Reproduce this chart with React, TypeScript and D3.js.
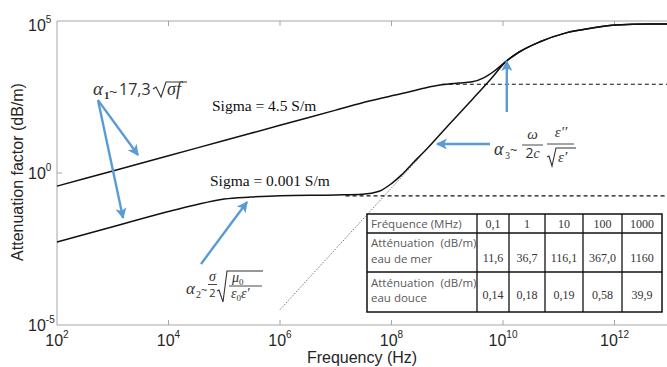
import * as d3 from "d3"

// readings: frequency in Hz, attenuation in dB/m
const seaFreq = [1e2, 1e3, 1e4, 1e5, 1e6, 1e7, 4e7, 1.6e8, 4e8, 8e8, 1.6e9, 2.8e9, 4.5e9, 7e9, 1.15e10, 1.95e10, 4.5e10, 1.35e11, 4e11, 1.07e12, 4.2e12, 1e13]
const seaAtt = [0.37, 1.17, 3.7, 11.7, 37, 117, 234, 417, 630, 800, 912, 1000, 1350, 2265, 4790, 9550, 20400, 40700, 58900, 74100, 79400, 79400]

const freshFreq = [1e2, 1e3, 1e4, 3e4, 1e5, 3e5, 1e6, 1e7, 3e7, 6e7, 1e8, 1.5e8, 2.4e8, 4e8, 1e9, 3e9, 6e9, 1.15e10, 1.95e10, 4.5e10, 1.35e11, 4e11, 1.07e12, 4.2e12, 1e13]
const freshAtt = [0.0054, 0.017, 0.054, 0.089, 0.14, 0.162, 0.18, 0.19, 0.2, 0.25, 0.45, 0.85, 2.1, 5.4, 34, 300, 1220, 4790, 9550, 20400, 40700, 58900, 74100, 79400, 79400]

// alpha3 asymptote (dotted) and the two conduction plateaus (dashed)
const asymFreq = [1e6, 3e8]
const asymAtt = [3.2e-5, 2.9]
const plateauStart = [8e8, 1.5e7]
const plateauAtt = [830, 0.178]

const xTicks = [1e2, 1e4, 1e6, 1e8, 1e10, 1e12]
const yTicks = [1e-5, 1e0, 1e5]

const curveLabels = ["Sigma = 4.5 S/m", "Sigma = 0.001 S/m"]

// table
const tableFreq = ["0,1", "1", "10", "100", "1000"]
const tableSea = ["11,6", "36,7", "116,1", "367,0", "1160"]
const tableFresh = ["0,14", "0,18", "0,19", "0,58", "39,9"]

const x = d3.scaleLog().domain([1e2, 1e13]).range([57, 57 + 11 * 55.75])
const y = d3.scaleLog().domain([1e-5, 1e5]).range([325, 21])

const line = d3
  .line<[number, number]>()
  .x((d) => x(d[0]))
  .y((d) => y(d[1]))
  .curve(d3.curveMonotoneX)

const zip = (f: number[], a: number[]) => f.map((v, i) => [v, a[i]] as [number, number])

const blue = "#5b9bd5"
const ink = "#333"
const serif = "Liberation Serif, serif"
const sans = "Liberation Sans, Arial, sans-serif"
const ui = "Open Sans, sans-serif"

// arrows in data coordinates [freq, att] -> [freq, att]
const arrows: Array<[[number, number], [number, number]]> = [
  [[543, 250], [2.84e3, 3.9]],
  [[543, 250], [1.53e3, 0.033]],
  [[3.83e4, 1.02e-3], [2.56e5, 0.111]],
  [[5.85e9, 9.0], [6.55e8, 9.0]],
  [[1.17e10, 101], [1.17e10, 4830]],
]

const colX = [367, 477, 509, 545, 583, 622, 662]
const rowY = [214, 233, 272, 312]

function Radical({ d }: { d: string }) {
  return <path d={d} fill="none" stroke={ink} strokeWidth={1.1} />
}

export default function App() {
  const exp = (t: number) => String(Math.round(Math.log10(t)))
  return (
    <svg
      width={667}
      height={367}
      style={{ position: "absolute", left: 0, top: 0, background: "#fff" }}
      fontFamily={sans}
    >
      <defs>
        <marker
          id="head"
          viewBox="0 0 10 10"
          refX={9}
          refY={5}
          markerWidth={12}
          markerHeight={11}
          markerUnits="userSpaceOnUse"
          orient="auto"
        >
          <path d="M0,0 L10,5 L0,10 L2.5,5 z" fill={blue} />
        </marker>
      </defs>

      {/* frame */}
      <g stroke="#a6a6a6" strokeWidth={1}>
        <line x1={57} x2={667} y1={21} y2={21} />
        <line x1={57} x2={667} y1={325} y2={325} />
        <line x1={57} x2={57} y1={21} y2={325} />
        {xTicks.slice(1).map((t) => (
          <g key={t}>
            <line x1={x(t)} x2={x(t)} y1={325} y2={320} />
            <line x1={x(t)} x2={x(t)} y1={21} y2={26} />
          </g>
        ))}
        {yTicks.slice(1, -1).map((t) => (
          <line key={t} x1={57} x2={62} y1={y(t)} y2={y(t)} />
        ))}
      </g>

      {/* tick labels */}
      <g fill="#262626" fontSize={16}>
        {xTicks.map((t) => (
          <text key={t} x={x(t)} y={346} textAnchor="middle">
            10<tspan fontSize={10} dy={-8}>{exp(t)}</tspan>
          </text>
        ))}
        {yTicks.map((t) => (
          <text key={t} x={28} y={Math.max(y(t) + 6, 31)}>
            10<tspan fontSize={10} dy={-8}>{exp(t)}</tspan>
          </text>
        ))}
        <text x={362} y={363} textAnchor="middle">Frequency (Hz)</text>
        <text transform="translate(23,172) rotate(-90)" textAnchor="middle">
          Attenuation factor (dB/m)
        </text>
      </g>

      {/* curves */}
      <path d={line(zip(asymFreq, asymAtt)) ?? ""} fill="none" stroke="#666" strokeWidth={0.9} strokeDasharray="1.5,1.5" />
      {plateauStart.map((f, i) => (
        <line
          key={f}
          x1={x(f)}
          x2={667}
          y1={y(plateauAtt[i])}
          y2={y(plateauAtt[i])}
          stroke="#111"
          strokeWidth={1.2}
          strokeDasharray="4,3"
        />
      ))}
      <path d={line(zip(seaFreq, seaAtt)) ?? ""} fill="none" stroke="#111" strokeWidth={1.5} />
      <path d={line(zip(freshFreq, freshAtt)) ?? ""} fill="none" stroke="#111" strokeWidth={1.5} />

      <g fontFamily={serif} fontSize={15.5} fill="#111">
        <text x={212} y={111}>{curveLabels[0]}</text>
        <text x={210} y={186}>{curveLabels[1]}</text>
      </g>

      {/* arrows */}
      <g stroke={blue} strokeWidth={2.4} markerEnd="url(#head)">
        {arrows.map(([a, b], i) => (
          <line key={i} x1={x(a[0])} y1={y(a[1])} x2={x(b[0])} y2={y(b[1])} />
        ))}
      </g>

      {/* alpha1 */}
      <g fill={ink}>
        <text x={93} y={95} fontFamily={serif} fontStyle="italic" fontSize={19}>α</text>
        <text x={104} y={99} fontFamily={serif} fontSize={11} fontWeight="bold">1</text>
        <text x={109} y={97} fontFamily={ui} fontSize={15}>~</text>
        <text x={119} y={95} fontFamily={ui} fontSize={16}>17,3</text>
        <Radical d="M153,89 L156,87 L161,97 L166,82 L187,82" />
        <text x={167} y={95} fontFamily={serif} fontStyle="italic" fontSize={18}>σf</text>
      </g>

      {/* alpha2 */}
      <g fill={ink} fontFamily={serif}>
        <text x={186} y={294} fontStyle="italic" fontSize={17}>α</text>
        <text x={196} y={298} fontSize={10}>2</text>
        <text x={201} y={294} fontFamily={ui} fontSize={11}>~</text>
        <text x={212.5} y={281} fontStyle="italic" fontSize={14} textAnchor="middle">σ</text>
        <line x1={208} x2={217} y1={284.5} y2={284.5} stroke={ink} strokeWidth={0.9} />
        <text x={212.5} y={297} fontFamily={ui} fontSize={11} textAnchor="middle">2</text>
        <Radical d="M217,291 L219,290 L223,302 L227,271 L263,271" />
        <text x={232} y={282} fontStyle="italic" fontSize={14}>μ<tspan fontStyle="normal" fontSize={9} dy={3}>0</tspan></text>
        <line x1={229} x2={262} y1={286} y2={286} stroke={ink} strokeWidth={0.9} />
        <text x={231} y={298} fontStyle="italic" fontSize={14}>
          ε<tspan fontStyle="normal" fontSize={9} dy={3}>0</tspan>
          <tspan dy={-3}>ε′</tspan>
        </text>
      </g>

      {/* alpha3 */}
      <g fill={ink} fontFamily={serif}>
        <text x={494} y={155} fontStyle="italic" fontSize={18}>α</text>
        <text x={505} y={159} fontSize={10}>3</text>
        <text x={510} y={155} fontFamily={ui} fontSize={13}>~</text>
        <text x={532.5} y={139} fontStyle="italic" fontSize={15} textAnchor="middle">ω</text>
        <line x1={522} x2={543} y1={145} y2={145} stroke={ink} strokeWidth={0.9} />
        <text x={532.5} y={158} fontFamily={ui} fontSize={14} textAnchor="middle">2<tspan fontFamily={serif} fontStyle="italic">c</tspan></text>
        <text x={561} y={137} fontStyle="italic" fontSize={15} textAnchor="middle">ε′′</text>
        <line x1={547} x2={574} y1={144} y2={144} stroke={ink} strokeWidth={0.9} />
        <Radical d="M547,157 L549,156 L552,166 L556,148 L576,148" />
        <text x={558} y={162} fontStyle="italic" fontSize={15}>ε′</text>
      </g>

      {/* table */}
      <g>
        <rect x={colX[0]} y={rowY[0]} width={colX[6] - colX[0]} height={rowY[3] - rowY[0]} fill="#fff" stroke="#111" strokeWidth={1.5} />
        {rowY.slice(1, 3).map((r) => (
          <line key={r} x1={colX[0]} x2={colX[6]} y1={r} y2={r} stroke="#111" strokeWidth={1.3} />
        ))}
        {colX.slice(1, 6).map((c) => (
          <line key={c} x1={c} x2={c} y1={rowY[0]} y2={rowY[3]} stroke="#111" strokeWidth={1.3} />
        ))}
        <g fontFamily={ui} fontSize={11.5} fill="#595959">
          <text x={371} y={228}>Fréquence (MHz)</text>
          <text x={371} y={247} wordSpacing={3}>Atténuation (dB/m)</text>
          <text x={371} y={263}>eau de mer</text>
          <text x={371} y={287} wordSpacing={3}>Atténuation (dB/m)</text>
          <text x={371} y={302}>eau douce</text>
        </g>
        <g fontFamily={serif} fontSize={12} fill="#333" textAnchor="middle">
          {tableFreq.map((v, i) => (
            <text key={"f" + i} x={(colX[i + 1] + colX[i + 2]) / 2} y={228}>{v}</text>
          ))}
          {tableSea.map((v, i) => (
            <text key={"s" + i} x={(colX[i + 1] + colX[i + 2]) / 2} y={262}>{v}</text>
          ))}
          {tableFresh.map((v, i) => (
            <text key={"d" + i} x={(colX[i + 1] + colX[i + 2]) / 2} y={299}>{v}</text>
          ))}
        </g>
      </g>
    </svg>
  )
}
